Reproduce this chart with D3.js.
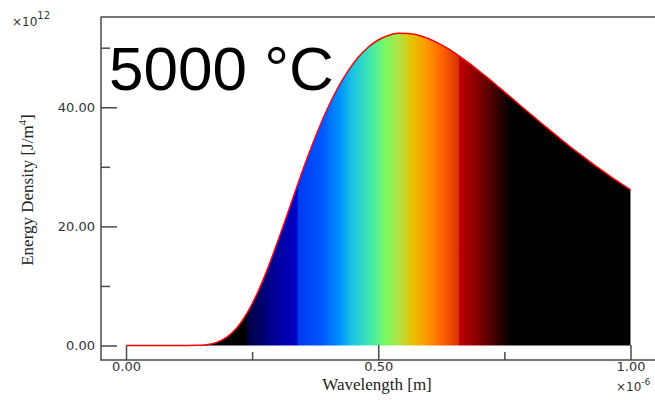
<!DOCTYPE html>
<html>
<head>
<meta charset="utf-8">
<script src="https://cdn.jsdelivr.net/npm/d3@7"></script>
<style>
  html, body { margin: 0; padding: 0; background: #fff; }
  svg { display: block; }
</style>
</head>
<body>
<svg id="chart" width="655" height="400"></svg>
<script>
// Wavelength in units of 1e-6 m
const wavelengths = [0, 0.10, 0.12, 0.14, 0.16, 0.18, 0.20, 0.22, 0.24, 0.26, 0.28, 0.30,
  0.32, 0.34, 0.36, 0.38, 0.40, 0.42, 0.44, 0.46, 0.48, 0.50, 0.52, 0.54, 0.56, 0.58, 0.60,
  0.62, 0.64, 0.66, 0.68, 0.70, 0.72, 0.74, 0.76, 0.78, 0.80, 0.82, 0.84, 0.86, 0.88, 0.90,
  0.92, 0.94, 0.96, 0.98, 1.00];
// Energy density in units of 1e12
const energy = [0, 0, 0.002, 0.024, 0.14, 0.52, 1.39, 2.98, 5.43, 8.72, 12.74, 17.28,
  22.09, 26.95, 31.63, 35.98, 39.87, 43.25, 46.07, 48.35, 50.07, 51.29, 52.06, 52.42, 52.40, 52.09, 51.51,
  50.72, 49.75, 48.63, 47.40, 46.09, 44.72, 43.30, 41.88, 40.42, 38.99, 37.56, 36.15, 34.78, 33.41, 32.12,
  30.84, 29.60, 28.41, 27.26, 26.15];

const xMajorTicks = [0, 0.5, 1.0];
const xMajorLabels = ["0.00", "0.50", "1.00"];
const xMinorTicks = [0.25, 0.75];
const yMajorTicks = [0, 20, 40];
const yMajorLabels = ["0.00", "20.00", "40.00"];
const yMinorTicks = [10, 30, 50];

// spectrum colour stops (wavelength, colour)
const spectrumPos = [0, 0.238, 0.242, 0.29, 0.339, 0.341, 0.39, 0.424, 0.45, 0.484, 0.517, 0.543,
  0.569, 0.597, 0.628, 0.659, 0.661, 0.70, 0.757, 0.762, 1.0];
const spectrumCol = ["#000000", "#000000", "#000040", "#000090", "#0000c8", "#0038f0", "#0058ff", "#0092ff",
  "#1cc4e4", "#40e8b0", "#80f860", "#b4e040", "#e8c000", "#ff9800", "#ff6000", "#d83400",
  "#c00000", "#800000", "#100000", "#000000", "#000000"];

const title = "5000 °C";

const svg = d3.select("#chart");
const x = d3.scaleLinear().domain([0, 1]).range([126, 630.5]);
const y = d3.scaleLinear().domain([0, 50]).range([345.5, 47.7]);

const data = wavelengths.map((w, i) => ({ w, e: energy[i] }));

// gradient
const defs = svg.append("defs");
const grad = defs.append("linearGradient")
  .attr("id", "spec")
  .attr("gradientUnits", "userSpaceOnUse")
  .attr("x1", x(0)).attr("x2", x(1)).attr("y1", 0).attr("y2", 0);
spectrumPos.forEach((p, i) => {
  grad.append("stop").attr("offset", p).attr("stop-color", spectrumCol[i]);
});

// area
const area = d3.area()
  .x(d => x(d.w))
  .y0(y(0))
  .y1(d => y(d.e))
  .curve(d3.curveMonotoneX);
svg.append("path").datum(data)
  .attr("d", area)
  .attr("fill", "url(#spec)");

// right edge of fill
svg.append("line")
  .attr("x1", x(1)).attr("x2", x(1))
  .attr("y1", y(energy[energy.length - 1])).attr("y2", y(0))
  .attr("stroke", "#888").attr("stroke-width", 1);

// curve line
const line = d3.line()
  .x(d => x(d.w))
  .y(d => y(d.e))
  .curve(d3.curveMonotoneX);
svg.append("path").datum(data)
  .attr("d", line)
  .attr("fill", "none")
  .attr("stroke", "#ff0000")
  .attr("stroke-width", 1.5);

// frame lines
const axisColor = "#4a4a4a";
svg.append("line").attr("x1", 101).attr("x2", 655).attr("y1", 17).attr("y2", 17)
  .attr("stroke", axisColor).attr("stroke-width", 1.5);
svg.append("line").attr("x1", 101).attr("x2", 101).attr("y1", 16.5).attr("y2", 360.5)
  .attr("stroke", axisColor).attr("stroke-width", 1.5);
svg.append("line").attr("x1", 100.5).attr("x2", 655).attr("y1", 360).attr("y2", 360)
  .attr("stroke", axisColor).attr("stroke-width", 1.5);

// y axis
const yAxisMajor = d3.axisLeft(y).tickValues(yMajorTicks)
  .tickFormat((d, i) => yMajorLabels[i])
  .tickSizeInner(-16).tickSizeOuter(0).tickPadding(6);
const yAxisMinor = d3.axisLeft(y).tickValues(yMinorTicks)
  .tickFormat("").tickSizeInner(-9).tickSizeOuter(0);
[yAxisMajor, yAxisMinor].forEach(ax => {
  const g = svg.append("g").attr("transform", "translate(101,0)").call(ax);
  g.select(".domain").remove();
  g.selectAll(".tick line").attr("stroke", axisColor).attr("stroke-width", 1.5);
  g.selectAll(".tick text").attr("fill", "#333")
    .style("font-family", "'DejaVu Sans', sans-serif").style("font-size", "13px");
});

// x axis
const xAxisMajor = d3.axisBottom(x).tickValues(xMajorTicks)
  .tickFormat((d, i) => xMajorLabels[i])
  .tickSizeInner(-15).tickSizeOuter(0).tickPadding(2);
const xAxisMinor = d3.axisBottom(x).tickValues(xMinorTicks)
  .tickFormat("").tickSizeInner(-8).tickSizeOuter(0);
[xAxisMajor, xAxisMinor].forEach(ax => {
  const g = svg.append("g").attr("transform", "translate(0,360)").call(ax);
  g.select(".domain").remove();
  g.selectAll(".tick line").attr("stroke", axisColor).attr("stroke-width", 1.5);
  g.selectAll(".tick text").attr("fill", "#333")
    .style("font-family", "'DejaVu Sans', sans-serif").style("font-size", "13px");
});

// axis titles
svg.append("text")
  .attr("x", 377).attr("y", 390)
  .attr("text-anchor", "middle")
  .style("font-family", "'Liberation Serif', serif").style("font-size", "17px")
  .attr("fill", "#222")
  .text("Wavelength [m]");

const yt = svg.append("text")
  .attr("transform", "translate(33,190) rotate(-90)")
  .attr("text-anchor", "middle")
  .style("font-family", "'Liberation Serif', serif").style("font-size", "17px")
  .attr("fill", "#222");
yt.append("tspan").text("Energy Density [J/m");
yt.append("tspan").attr("dy", -7).style("font-size", "11px").text("4");
yt.append("tspan").attr("dy", 7).text("]");

// multipliers
const m1 = svg.append("text").attr("x", 12).attr("y", 26)
  .style("font-family", "'DejaVu Sans', sans-serif").style("font-size", "12px").attr("fill", "#333");
m1.append("tspan").text("×10");
m1.append("tspan").attr("dy", -7).style("font-size", "10px").text("12");

const m2 = svg.append("text").attr("x", 616).attr("y", 391)
  .style("font-family", "'DejaVu Sans', sans-serif").style("font-size", "12px").attr("fill", "#333");
m2.append("tspan").text("×10");
m2.append("tspan").attr("dy", -6).style("font-size", "9px").text("-6");

// big title
svg.append("text")
  .attr("x", 109).attr("y", 90)
  .style("font-family", "'Liberation Sans', Arial, sans-serif").style("font-size", "62px")
  .attr("fill", "#000")
  .text(title);
</script>
</body>
</html>
